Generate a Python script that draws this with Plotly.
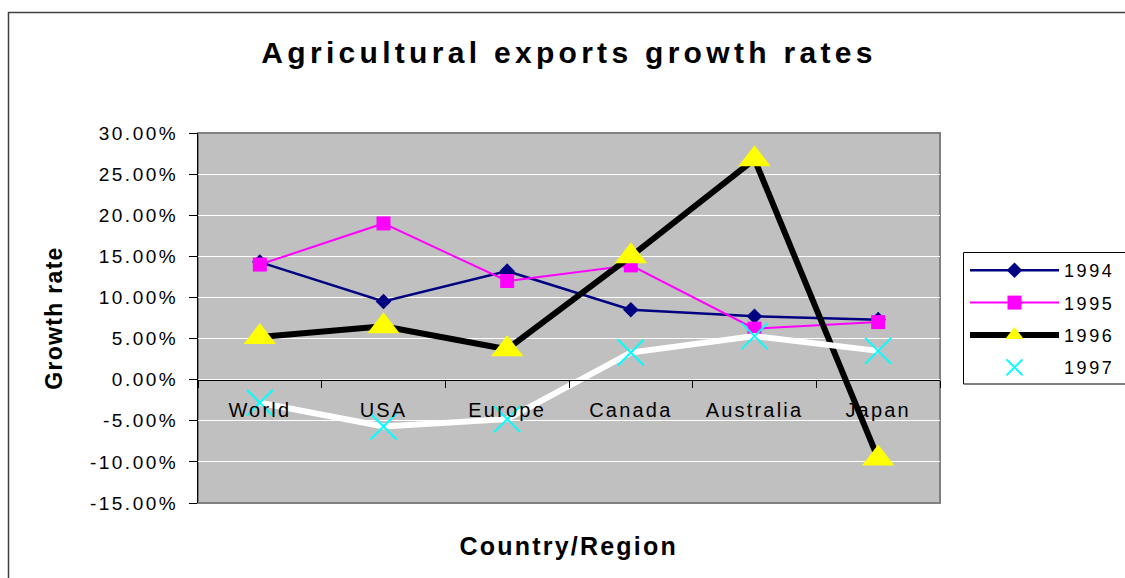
import plotly.graph_objects as go

# Export growth rates (%) by country / region
regions = ["World", "USA", "Europe", "Canada", "Australia", "Japan"]
growth_1994 = [14.3, 9.5, 13.2, 8.5, 7.7, 7.3]
growth_1995 = [14.0, 19.0, 12.0, 13.9, 6.2, 7.0]
growth_1996 = [5.2, 6.5, 3.7, 15.0, 26.8, -9.6]
growth_1997 = [-2.8, -5.7, -4.8, 3.3, 5.3, 3.5]

y_tick_values = [-15, -10, -5, 0, 5, 10, 15, 20, 25, 30]
y_tick_labels = [f"{v:.2f}%" for v in y_tick_values]

FONT = "Liberation Sans, Arial, sans-serif"

# plotting area in pixels: x 198..940, y 133..503
L, R, T, B = 198, 940, 133, 503
PW, PH = R - L, B - T


def px_x(x):
    return (x - L) / PW


def px_y(y):
    return (B - y) / PH


series = [
    dict(name="1994", y=growth_1994,
         line=dict(color="#000080", width=2.5),
         marker=dict(symbol="diamond", size=12, color="#000080")),
    dict(name="1995", y=growth_1995,
         line=dict(color="#FF00FF", width=2),
         marker=dict(symbol="square", size=14, color="#FF00FF")),
    dict(name="1996", y=growth_1996,
         line=dict(color="#000000", width=6),
         marker=dict(symbol="triangle-up", size=28, color="#FFFF00")),
    dict(name="1997", y=growth_1997,
         line=dict(color="#FFFFFF", width=6),
         marker=dict(symbol="x-thin", size=26,
                     line=dict(color="#00FFFF", width=2), color="#00FFFF")),
]

fig = go.Figure()
for s in series:
    fig.add_trace(go.Scatter(
        x=regions, y=s["y"], name=s["name"], mode="lines+markers",
        line=s["line"], marker=s["marker"], legendgroup=s["name"],
    ))

fig.update_layout(
    width=1125, height=578,
    margin=dict(l=L, r=1125 - R, t=T, b=578 - B),
    paper_bgcolor="white",
    plot_bgcolor="#C0C0C0",
    font=dict(family=FONT, color="black", size=18),
    showlegend=True,
    title=dict(
        text="<b>Agricultural exports growth rates</b>",
        x=0.5, xref="paper", xanchor="center",
        y=1 - 52 / 578, yref="container", yanchor="middle",
        font=dict(family=FONT, size=30, color="black"),
    ),
    legend=dict(
        x=px_x(965), y=px_y(252),
        xanchor="left", yanchor="top",
        borderwidth=0, bgcolor="rgba(0,0,0,0)",
        font=dict(family=FONT, size=18, color="black"),
        itemwidth=89, tracegroupgap=6,
    ),
    xaxis=dict(
        type="category", range=[-0.5, 5.5],
        anchor="free", position=15 / 45,
        showline=True, linecolor="black", linewidth=1,
        ticks="outside", ticklen=7, tickcolor="black", tickson="boundaries",
        showgrid=False, zeroline=False,
        tickfont=dict(family=FONT, size=20, color="black"),
        ticklabelstandoff=12,
    ),
    yaxis=dict(
        range=[-15, 30], tickvals=y_tick_values, ticktext=y_tick_labels,
        ticks="outside", ticklen=8, tickcolor="black",
        showline=True, linecolor="black", linewidth=1,
        showgrid=True, gridcolor="white", gridwidth=1, zeroline=False,
        tickfont=dict(family=FONT, size=19, color="black"),
        ticklabelstandoff=7,
        title=dict(text="<b>Growth rate</b>",
                   font=dict(family=FONT, size=23, color="black"),
                   standoff=38),
    ),
    annotations=[dict(
        text="<b>Country/Region</b>", showarrow=False,
        xref="paper", yref="paper", x=0.5, y=px_y(546),
        xanchor="center", yanchor="middle",
        font=dict(family=FONT, size=25, color="black"),
    )],
    shapes=[
        # grey frame of the plotting area
        dict(type="rect", xref="paper", yref="paper", x0=0, x1=1, y0=0, y1=1,
             line=dict(color="#808080", width=2), layer="below"),
        # outer chart frame
        dict(type="rect", xref="paper", yref="paper",
             x0=px_x(8.5), x1=px_x(1200), y0=px_y(700), y1=px_y(12.5),
             line=dict(color="#404040", width=1.5), layer="below"),
        # legend box
        dict(type="rect", xref="paper", yref="paper",
             x0=px_x(963.5), x1=px_x(1140), y0=px_y(384), y1=px_y(252.5),
             line=dict(color="black", width=1), fillcolor="white",
             layer="below"),
    ],
)

spacing_js = """
var gd = document.getElementById('{plot_id}');
function spread(sel, v) {
  gd.querySelectorAll(sel).forEach(function (t) { t.style.letterSpacing = v; });
}
spread('.gtitle', '4.3px');
spread('.xtick text', '2.2px');
spread('.ytick text', '2.5px');
spread('.ytitle', '1.3px');
spread('.annotation-text', '2.2px');
spread('.legendtext', '2.6px');
// wider legend labels must not be cut by the legend clip box
gd.querySelectorAll('.legend [clip-path]').forEach(function (e) {
  e.removeAttribute('clip-path');
});
"""

fig.write_html("out.html", post_script=spacing_js)
